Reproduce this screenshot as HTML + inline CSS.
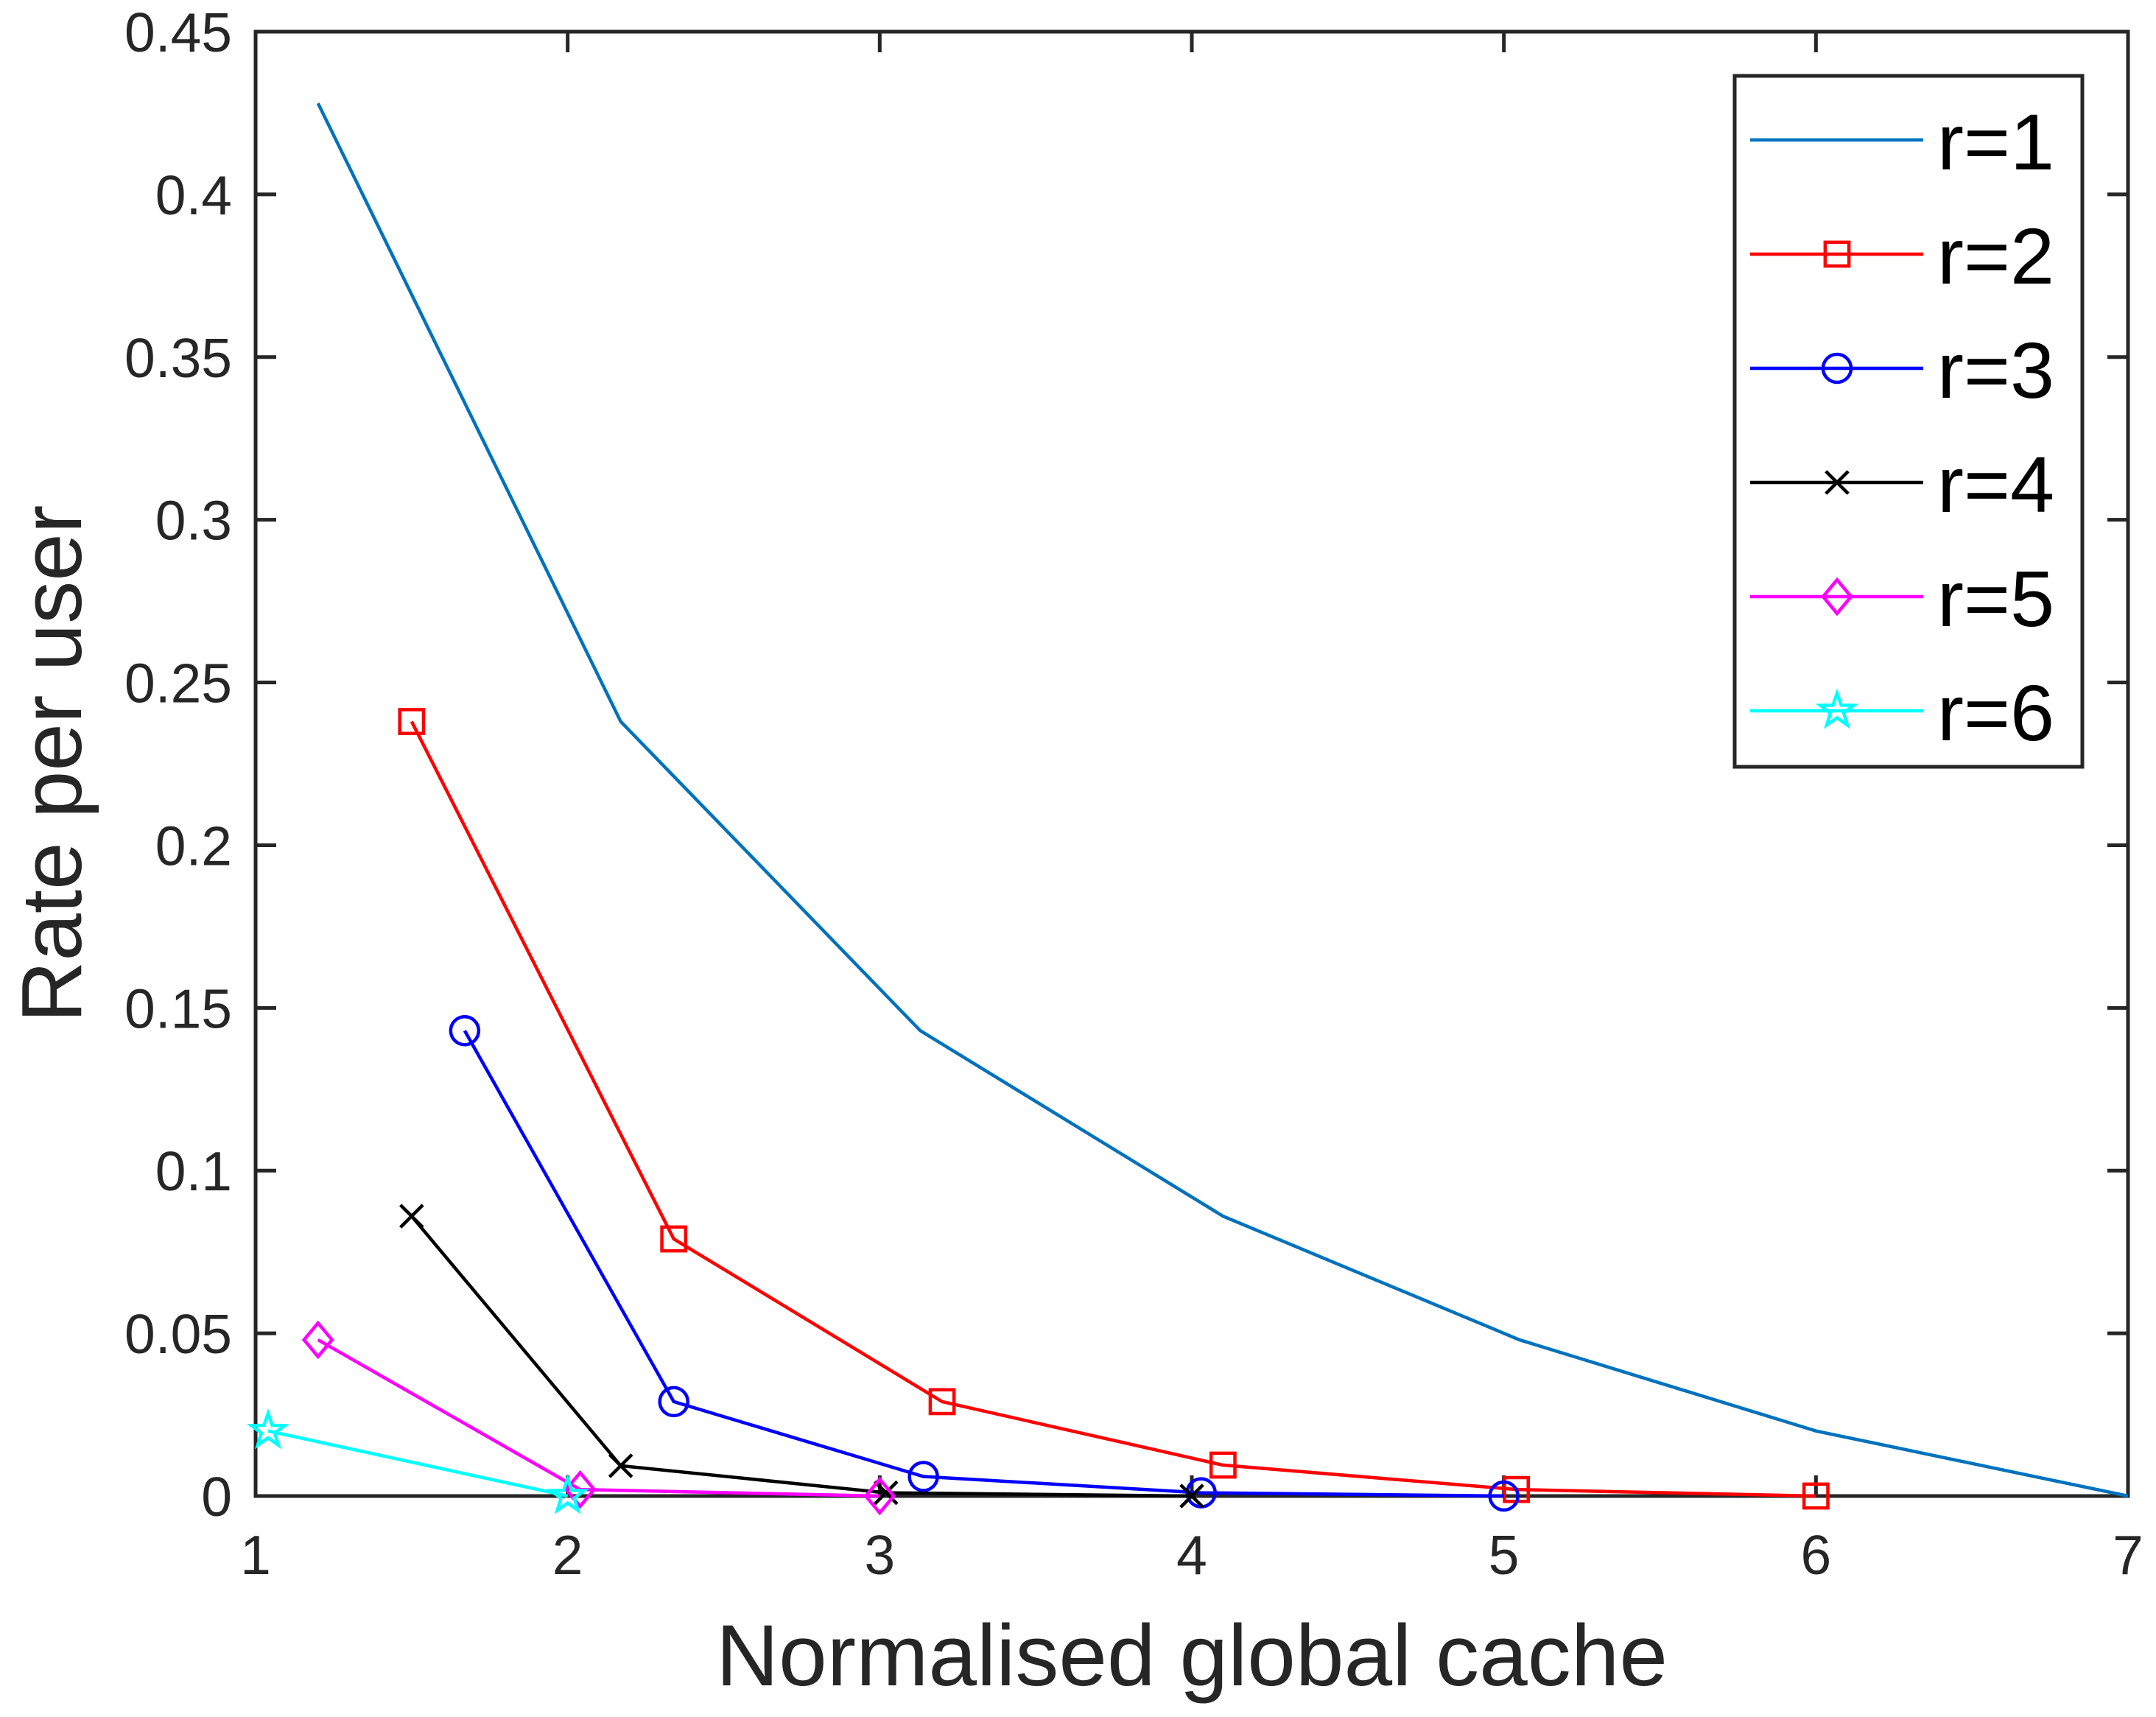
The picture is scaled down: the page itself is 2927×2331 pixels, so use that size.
<!DOCTYPE html>
<html><head><meta charset="utf-8"><style>
html,body{margin:0;padding:0;background:#fff}
svg{display:block}
text{font-family:"Liberation Sans",sans-serif}
</style></head><body>
<svg id="chart" width="2927" height="2331" viewBox="0 0 2927 2331" xmlns="http://www.w3.org/2000/svg">
<g id="plot"></g>
</svg>
<script>
const xTicks = [1,2,3,4,5,6,7];
const yTicks = [0,0.05,0.1,0.15,0.2,0.25,0.3,0.35,0.4,0.45];
const yTickLabels = ["0","0.05","0.1","0.15","0.2","0.25","0.3","0.35","0.4","0.45"];
const seriesNames = ["r=1","r=2","r=3","r=4","r=5","r=6"];
const x_r1 = [1.2,2.17,3.13,4.1,5.05,6.0,7.0];
const y_r1 = [0.428,0.238,0.143,0.086,0.048,0.02,0];
const x_r2 = [1.5,2.34,3.2,4.1,5.04,6.0];
const y_r2 = [0.238,0.079,0.029,0.0095,0.002,0];
const x_r3 = [1.67,2.34,3.14,4.03,5.0];
const y_r3 = [0.143,0.029,0.006,0.001,0];
const x_r4 = [1.5,2.17,3.02,4.0];
const y_r4 = [0.086,0.0093,0.001,0];
const x_r5 = [1.2,2.04,3.0];
const y_r5 = [0.048,0.002,0];
const x_r6 = [1.04,2.0];
const y_r6 = [0.02,0];

const L=347,R=2889,T=43,B=2031;
const xs=v=>L+(v-1)/(7-1)*(R-L);
const ys=v=>B-(v/0.45)*(B-T);
const NS="http://www.w3.org/2000/svg";
const g=document.getElementById('plot');
function mk(tag,attrs,parent){const e=document.createElementNS(NS,tag);for(const k in attrs)e.setAttribute(k,attrs[k]);(parent||g).appendChild(e);return e;}

const box=mk('rect',{x:L,y:T,width:R-L,height:B-T,fill:'none',stroke:'#262626','stroke-width':5});



xTicks.forEach((t,i)=>{
  const x=xs(t);
  const tk=mk('path',{d:`M${x},${B}v-28M${x},${T}v28`,stroke:'#262626','stroke-width':5});
  
  
  const lb=mk('text',{x:x,y:B+106,'text-anchor':'middle','font-size':75,fill:'#262626'});
  lb.textContent=String(t);
  
  
});
yTicks.forEach((t,i)=>{
  const y=ys(t);
  const tk=mk('path',{d:`M${L},${y}h28M${R},${y}h-28`,stroke:'#262626','stroke-width':5});
  
  
  const lb=mk('text',{x:L-32,y:y+27,'text-anchor':'end','font-size':75,fill:'#262626'});
  lb.textContent=yTickLabels[i];
  
  
});

const xt=mk('text',{x:(L+R)/2,y:2288,'text-anchor':'middle','font-size':118,fill:'#262626'});
xt.textContent='Normalised global cache';


const yt=mk('text',{x:0,y:0,'text-anchor':'middle','font-size':116,fill:'#262626',transform:`translate(110,${(T+B)/2}) rotate(-90)`});
yt.textContent='Rate per user';



const colors=['#0072bd','#ff0000','#0000ff','#000000','#ff00ff','#00ffff'];
const markers=['none','square','circle','x','diamond','star'];
const X=[x_r1,x_r2,x_r3,x_r4,x_r5,x_r6], Y=[y_r1,y_r2,y_r3,y_r4,y_r5,y_r6];

function marker(type,cx,cy,c,parent){
  const s=19;
  let e=null;
  if(type==='square') e=mk('rect',{x:cx-s*0.85,y:cy-s*0.85,width:s*1.7,height:s*1.7,fill:'none',stroke:c,'stroke-width':4.5},parent);
  else if(type==='circle') e=mk('circle',{cx:cx,cy:cy,r:s,fill:'none',stroke:c,'stroke-width':4.5},parent);
  else if(type==='x') e=mk('path',{d:`M${cx-s*0.8},${cy-s*0.8}L${cx+s*0.8},${cy+s*0.8}M${cx-s*0.8},${cy+s*0.8}L${cx+s*0.8},${cy-s*0.8}`,stroke:c,'stroke-width':4.5,fill:'none'},parent);
  else if(type==='diamond') e=mk('path',{d:`M${cx},${cy-s*1.2}L${cx+s},${cy}L${cx},${cy+s*1.2}L${cx-s},${cy}Z`,stroke:c,'stroke-width':4.5,fill:'none'},parent);
  else if(type==='star'){
    let d='';for(let k=0;k<10;k++){const a=-Math.PI/2+k*Math.PI/5;const rr=k%2?s*0.5:s*1.25;d+=(k?'L':'M')+(cx+rr*Math.cos(a))+','+(cy+rr*Math.sin(a));}
    e=mk('path',{d:d+'Z',stroke:c,'stroke-width':4.5,fill:'none'},parent);
  }
  if(e){}
}

X.forEach((xa,i)=>{
  const sg=mk('g',{});
  
  
  const pts=xa.map((v,j)=>xs(v)+','+ys(Y[i][j])).join(' ');
  const pl=mk('polyline',{points:pts,fill:'none',stroke:colors[i],'stroke-width':4.5},sg);
  
  
  xa.forEach((v,j)=>marker(markers[i],xs(v),ys(Y[i][j]),colors[i],sg));
});

const lg=mk('g',{});


mk('rect',{x:2355,y:103,width:472,height:938,fill:'#fff',stroke:'#262626','stroke-width':5},lg);
seriesNames.forEach((n,i)=>{
  const y=190+i*155;
  const eg=mk('g',{},lg);
  
  
  mk('line',{x1:2376,x2:2611,y1:y,y2:y,stroke:colors[i],'stroke-width':4.5},eg);
  marker(markers[i],2494,y,colors[i],eg);
  const t=mk('text',{x:2630,y:y+40,'font-size':108,fill:'#000'},eg);
  t.textContent=n;
});
</script>
</body></html>
